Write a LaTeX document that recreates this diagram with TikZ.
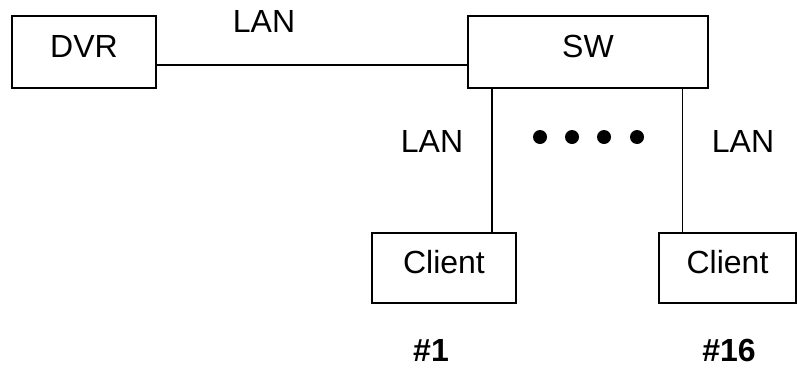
\documentclass[tikz,border=0pt]{standalone}
\usepackage{fontspec}
\setmainfont{Liberation Sans}
\begin{document}
\begin{tikzpicture}[x=1pt,y=-1pt,
  box/.style={draw, line width=1.5pt, inner sep=0pt, text height=23pt, text depth=13pt,
    font=\fontsize{32}{38}\selectfont},
  lbl/.style={inner sep=0pt, font=\fontsize{32}{38}\selectfont},
  num/.style={inner sep=0pt, text depth=0pt, anchor=base, font=\fontsize{32}{38}\selectfont\bfseries},
  dot/.style={circle, fill=black, inner sep=0pt, minimum size=14pt},
  wire/.style={line width=1.2pt}]
\useasboundingbox (0,0) rectangle (797,370);
\node[box, minimum width=144pt, minimum height=72pt] (dvr) at (84,52) {DVR};
\node[box, minimum width=240pt, minimum height=72pt] (sw) at (588,52) {SW};
\node[box, minimum width=144pt, minimum height=70pt] (c1) at (444,268) {Client};
\node[box, minimum width=137pt, minimum height=70pt] (c2) at (727.5,268) {Client};
\draw[wire] ([yshift=-13pt]dvr.east) -- ([yshift=-13pt]sw.west);
\draw[wire] ([xshift=48pt]c1.north) -- ([xshift=48pt]c1.north |- sw.south);
\draw[wire] ([xshift=24pt]c2.north west) -- ([xshift=24pt]c2.north west |- sw.south);
\node[lbl] (lan0) at (264,21) {LAN};
\node[lbl] (lan1) at (432,141) {LAN};
\node[lbl] (lan2) at (743,141) {LAN};
\node[dot] (d1) at (540,137) {};
\node[dot] (d2) at (572,137) {};
\node[dot] (d3) at (604,137) {};
\node[dot] (d4) at (637,137) {};
\node[num] (n1) at (431,361) {\#1};
\node[num] (n16) at (729,361) {\#16};
\end{tikzpicture}
\end{document}
